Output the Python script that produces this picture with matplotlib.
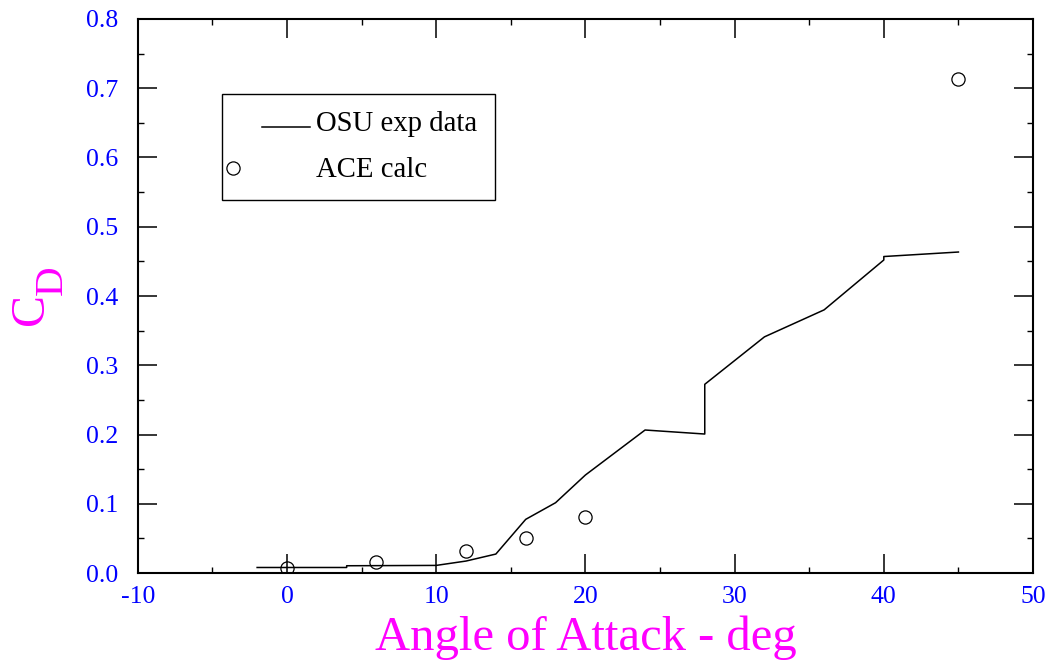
import numpy as np
import matplotlib
matplotlib.use("Agg")
import matplotlib.pyplot as plt
from matplotlib.legend_handler import HandlerLine2D
from matplotlib.ticker import MultipleLocator, FormatStrFormatter

plt.rcParams['font.family'] = ['Liberation Serif', 'DejaVu Serif']
plt.rcParams['axes.unicode_minus'] = False

# OSU wind tunnel drag data
osu_aoa = [-2, 4, 4, 10, 12, 14, 16, 18, 20, 24, 28, 28, 32, 36, 40, 40, 45]
osu_cd = [0.008, 0.008, 0.0105, 0.011, 0.0173, 0.0274, 0.0775, 0.1015, 0.1415,
          0.2065, 0.2007, 0.2725, 0.341, 0.380, 0.452, 0.457, 0.4635]

# ACE calculated drag
ace_aoa = [0, 6, 12, 16, 20, 45]
ace_cd = [0.0075, 0.0155, 0.0318, 0.051, 0.0804, 0.713]

BLUE = '#0000ff'
MAGENTA = '#ff00ff'
W, H = 1054, 666


class PlacedHandler(HandlerLine2D):
    # puts the legend handle between two offsets (points) from the handle box start
    def __init__(self, x0, x1, dy=0, **kw):
        super().__init__(**kw)
        self.x0 = x0
        self.x1 = x1
        self.dy = dy

    def create_artists(self, legend, orig_handle, xdescent, ydescent,
                       width, height, fontsize, trans):
        arts = super().create_artists(legend, orig_handle, xdescent, ydescent,
                                      width, height, fontsize, trans)
        for a in arts:
            a.set_xdata(np.linspace(-xdescent + self.x0, -xdescent + self.x1, 3))
            a.set_ydata(np.asarray(a.get_ydata()) + self.dy)
        return arts


fig = plt.figure(figsize=(W / 100, H / 100), dpi=100)
ax = fig.add_axes([0.1307, 0.1396, 0.8494, 0.8319])

exp_line, = ax.plot(osu_aoa, osu_cd, color='black', lw=1.1, label='OSU exp data')
ace_pts, = ax.plot(ace_aoa, ace_cd, ls='none', marker='o', ms=9.5, mfc='none',
                   mec='black', mew=0.9, label='ACE calc')

ax.set_xlim(-10, 50)
ax.set_ylim(0, 0.8)
ax.xaxis.set_major_locator(MultipleLocator(10))
ax.xaxis.set_minor_locator(MultipleLocator(5))
ax.yaxis.set_major_locator(MultipleLocator(0.1))
ax.yaxis.set_minor_locator(MultipleLocator(0.05))
ax.yaxis.set_major_formatter(FormatStrFormatter('%.1f'))

for s in ax.spines.values():
    s.set_linewidth(1.5)
ax.tick_params(which='both', direction='in', top=True, right=True, colors='black',
               labelcolor=BLUE, labelsize=18.5)
ax.tick_params(which='major', length=13.5, width=1.1)
ax.tick_params(which='minor', length=4.5, width=1.0)
ax.tick_params(axis='x', pad=9)
ax.tick_params(axis='y', pad=14)

ax.set_xlabel('Angle of Attack - deg', fontsize=35, color=MAGENTA, labelpad=6)

# C with a dropped subscript D
ax.set_ylabel('C', fontsize=34.5, color=MAGENTA)
ax.yaxis.set_label_coords(-0.1058, 0.4765)
ax.yaxis.label.set_verticalalignment('baseline')
fig.text(62 / W, 1 - 280 / H, 'D', fontsize=29.5, color=MAGENTA, rotation=90,
         rotation_mode='anchor', ha='center', va='baseline')

leg = ax.legend(handles=[exp_line, ace_pts], loc='upper left',
                bbox_to_anchor=(222 / W, 1 - 94 / H),
                bbox_transform=fig.transFigure, borderaxespad=0,
                fontsize=20.7, handlelength=2.47, handletextpad=0.21,
                borderpad=0.6, labelspacing=0.68, fancybox=False,
                edgecolor='black', framealpha=1,
                handler_map={exp_line: PlacedHandler(16.5, 51, dy=-4),
                             ace_pts: PlacedHandler(-4.5, -4.5, dy=-0.5, numpoints=1)})
leg.get_frame().set_linewidth(1.0)

fig.savefig('out.png', dpi=100)
